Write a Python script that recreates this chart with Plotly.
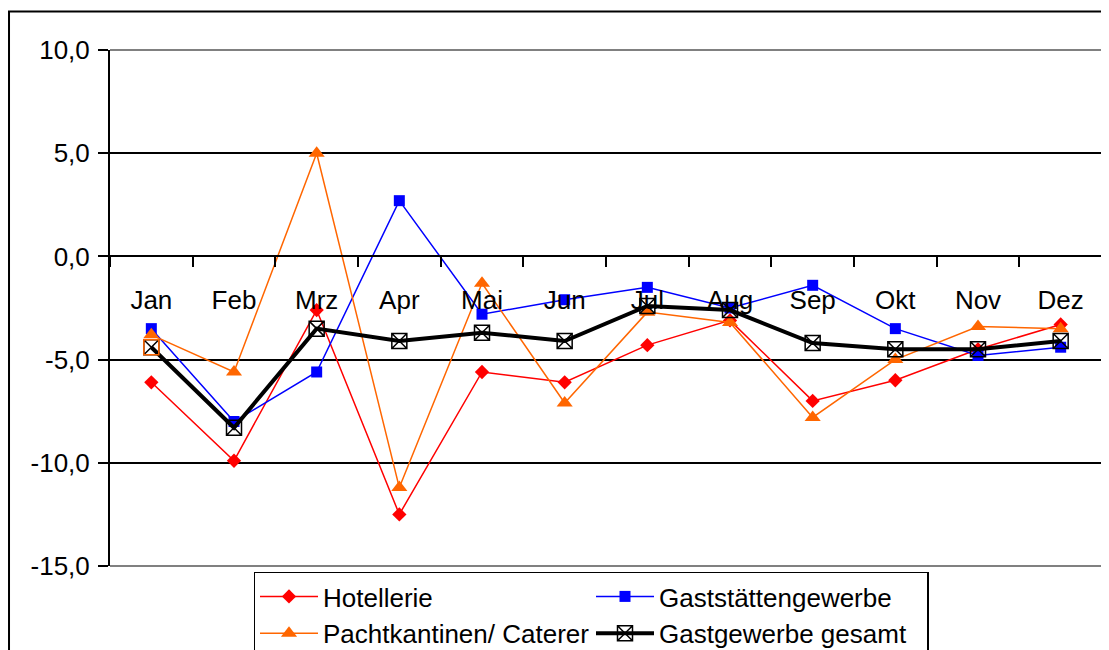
import plotly.graph_objects as go

months = ["Jan", "Feb", "Mrz", "Apr", "Mai", "Jun", "Jul", "Aug", "Sep", "Okt", "Nov", "Dez"]
hotellerie = [-6.1, -9.9, -2.6, -12.5, -5.6, -6.1, -4.3, -3.1, -7.0, -6.0, -4.5, -3.3]
gaststaetten = [-3.5, -8.0, -5.6, 2.7, -2.8, -2.1, -1.5, -2.5, -1.4, -3.5, -4.8, -4.4]
pacht = [-3.8, -5.6, 5.0, -11.2, -1.3, -7.1, -2.7, -3.2, -7.8, -5.0, -3.4, -3.5]
gesamt = [-4.4, -8.3, -3.5, -4.1, -3.7, -4.1, -2.4, -2.6, -4.2, -4.5, -4.5, -4.1]
y_ticks = [10, 5, 0, -5, -10, -15]
y_tick_text = ["10,0", "5,0", "0,0", "-5,0", "-10,0", "-15,0"]

FONT = "Liberation Sans, Arial, sans-serif"
FS = 26
W, H = 1101, 642  # page body has an 8px margin

fig = go.Figure()
fig.add_trace(go.Scatter(x=months, y=hotellerie, name="Hotellerie", mode="lines+markers",
                         line=dict(color="#FF0000", width=1.5),
                         marker=dict(symbol="diamond", size=11, color="#FF0000")))
fig.add_trace(go.Scatter(x=months, y=gaststaetten, name="Gaststättengewerbe", mode="lines+markers",
                         line=dict(color="#0000FF", width=1.5),
                         marker=dict(symbol="square", size=11, color="#0000FF")))
fig.add_trace(go.Scatter(x=months, y=pacht, name="Pachtkantinen/ Caterer", mode="lines+markers",
                         line=dict(color="#FF6600", width=1.5),
                         marker=dict(symbol="triangle-up", size=14, color="#FF6600")))
fig.add_trace(go.Scatter(x=months, y=gesamt, name="Gastgewerbe gesamt", mode="lines+markers",
                         line=dict(color="#000000", width=4),
                         marker=dict(symbol="square-x-open", size=15, color="#000000",
                                     line=dict(width=1.5))))
# first marker of the total series drawn with an orange frame, as in the original
fig.add_trace(go.Scatter(x=months[:1], y=gesamt[:1], mode="markers", showlegend=False,
                         hoverinfo="skip",
                         marker=dict(symbol="square-open", size=15, color="#FF6600",
                                     line=dict(width=1.5))))

fig.update_layout(
    width=W, height=H,
    margin=dict(l=102, r=7, t=42, b=84.3, autoexpand=False),
    paper_bgcolor="white", plot_bgcolor="white",
    font=dict(family=FONT, size=FS, color="black"),
    showlegend=True,
    legend=dict(orientation="h", xref="container", yref="container",
                x=245.5 / W, y=1 - 563.5 / H, xanchor="left", yanchor="top",
                bgcolor="white", bordercolor="black", borderwidth=1.5,
                font=dict(family=FONT, size=FS, color="black"),
                itemwidth=58, entrywidth=263, entrywidthmode="pixels",
                traceorder="normal"),
    xaxis=dict(type="category", anchor="free", position=0.6, automargin=False,
               showline=True, linecolor="black", linewidth=2,
               ticks="outside", tickson="boundaries", ticklen=10, tickwidth=1.5, tickcolor="black",
               showgrid=False, zeroline=False, ticklabelstandoff=20,
               tickfont=dict(family=FONT, size=FS, color="black"),
               range=[-0.5, 11.5]),
    yaxis=dict(range=[-15, 10], tickvals=y_ticks, ticktext=y_tick_text, automargin=False,
               showline=True, linecolor="black", linewidth=2,
               ticks="outside", ticklen=10, tickwidth=1.5, tickcolor="black",
               showgrid=True, gridcolor="black", gridwidth=1.5,
               zeroline=False, ticklabelstandoff=3,
               tickfont=dict(family=FONT, size=FS, color="black")),
    shapes=[
        # grey plot-area frame (top, right, bottom)
        dict(type="line", xref="paper", yref="paper", x0=0, x1=1, y0=1, y1=1,
             line=dict(color="#808080", width=2), layer="above"),
        dict(type="line", xref="paper", yref="paper", x0=1, x1=1, y0=0, y1=1,
             line=dict(color="#808080", width=2), layer="above"),
        dict(type="line", xref="paper", yref="paper", x0=0, x1=1, y0=0, y1=0,
             line=dict(color="#808080", width=2), layer="above"),
        # outer chart border
        dict(type="rect", xref="paper", yref="paper", x0=-0.1018, x1=1.2, y0=-0.3, y1=1.0747,
             line=dict(color="black", width=2), fillcolor="rgba(0,0,0,0)", layer="above"),
    ],
)

fig.write_html("out.html")
